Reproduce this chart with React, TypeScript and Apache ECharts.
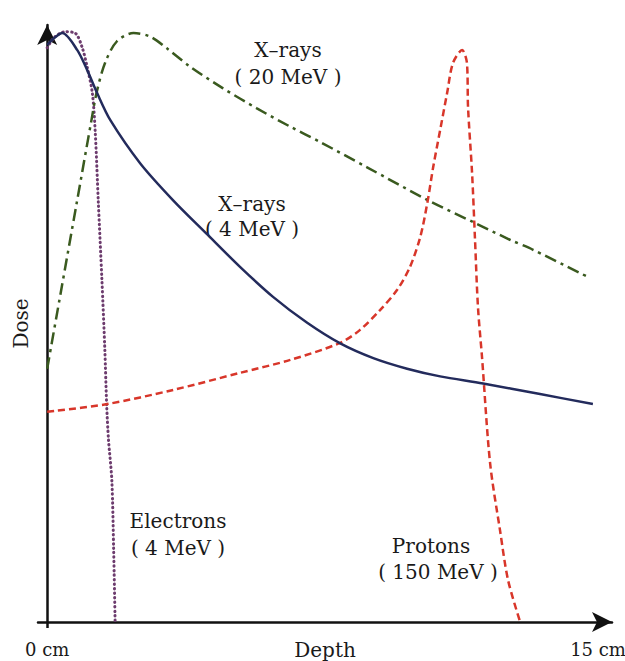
import React, { useEffect, useRef } from "react";
import * as echarts from "echarts";

// Depth in cm, relative dose (peak = 100)
const xray4Depth = [0, 0.2, 0.41, 0.82, 1.09, 1.36, 1.72, 2.53, 3.43, 4.36, 5.25, 6.15, 7.08, 7.98, 8.88, 9.8, 10.7, 11.87, 13.42, 14.86];
const xray4Dose = [98, 99.2, 100, 97.1, 93.7, 89.8, 85.2, 77.9, 71.6, 65.8, 60.3, 55.2, 50.8, 47.3, 44.8, 43.0, 41.7, 40.5, 38.7, 37.0];

const xray20Depth = [0, 0.4, 0.8, 1.2, 1.35, 1.58, 1.9, 2.35, 2.8, 3.26, 3.89, 4.79, 5.71, 6.62, 7.43, 8.71, 10.37, 11.6, 12.6, 13.23, 14.78];
const xray20Dose = [43, 57, 71, 85, 90, 95, 98.6, 100, 99.4, 97.4, 94.3, 90.6, 87.2, 84.1, 81.5, 77.2, 71.6, 67.9, 64.9, 63.2, 58.4];

const electronDepth = [0, 0.2, 0.49, 0.76, 0.95, 1.09, 1.23, 1.31, 1.39, 1.49, 1.57, 1.62, 1.67, 1.76, 1.81, 1.85];
const electronDose = [97.5, 99.3, 100.2, 100, 97.6, 94.2, 89.8, 83.0, 71.6, 58.1, 46.2, 36.8, 30.9, 24.1, 12.2, 0];

const protonDepth = [0, 1.63, 3.43, 5.25, 6.62, 7.98, 8.52, 9.07, 9.53, 9.88, 10.16, 10.35, 10.51, 10.7, 10.89, 11.05, 11.3, 11.43, 11.46, 11.57, 11.65, 11.73, 11.84, 12.06, 12.33, 12.55, 12.88];
const protonDose = [35.7, 37.0, 39.4, 42.3, 44.5, 47.4, 49.6, 53.0, 56.4, 60.3, 65.4, 71.1, 77.2, 83.5, 89.8, 94.9, 97.1, 94.9, 87.4, 76.2, 64.9, 53.5, 45.0, 27.0, 15.6, 7.1, 0];

const xTickValues = [0, 15];
const xTickLabels = ["0 cm", "15 cm"];

const pairs = (xs: number[], ys: number[]) => xs.map((x, i) => [x, ys[i]]);

export default function App() {
  const ref = useRef<HTMLDivElement>(null);
  useEffect(() => {
    if (!ref.current) return;
    const chart = echarts.init(ref.current, null, { renderer: "svg" });
    const serif = '"DejaVu Serif", "Liberation Serif", serif';
    const ink = "#1a1a1a";
    const axisLineStyle = { color: "#111", width: 2.5 };
    const txt = (t: string, x: number, y: number, size = 20) => ({
      type: "text",
      x,
      y,
      silent: true,
      style: {
        text: t,
        fontSize: size,
        fontFamily: serif,
        fill: ink,
        align: "center",
        verticalAlign: "middle",
        textAlign: "center",
        textVerticalAlign: "middle",
      },
    });
    chart.setOption({
      animation: false,
      backgroundColor: "#ffffff",
      grid: { left: 38, right: 13, top: 25, bottom: 39, containLabel: false, outerBoundsMode: "none" },
      xAxis: {
        type: "value",
        min: -0.25,
        max: 15.38,
        name: "Depth",
        nameLocation: "middle",
        nameGap: 18,
        nameMoveOverlap: false,
        nameTextStyle: { fontSize: 20, fontFamily: serif, color: ink },
        axisLine: {
          show: true,
          onZero: true,
          symbol: ["none", "arrow"],
          symbolSize: [15, 20],
          lineStyle: axisLineStyle,
        },
        axisTick: {
          show: true,
          customValues: xTickValues,
          length: 6,
          inside: false,
          lineStyle: axisLineStyle,
        },
        axisLabel: {
          show: true,
          customValues: xTickValues,
          formatter: (v: number) => {
            const i = xTickValues.indexOf(v);
            return i >= 0 ? xTickLabels[i] : "";
          },
          margin: 18,
          fontSize: 18,
          fontFamily: serif,
          color: ink,
        },
        splitLine: { show: false },
      },
      yAxis: {
        type: "value",
        min: 0,
        max: 101.36,
        name: "Dose",
        nameLocation: "middle",
        nameRotate: 90,
        nameGap: 7,
        nameMoveOverlap: false,
        nameTextStyle: { fontSize: 20, fontFamily: serif, color: ink },
        axisLine: {
          show: true,
          onZero: true,
          symbol: ["none", "arrow"],
          symbolSize: [15, 20],
          lineStyle: axisLineStyle,
        },
        axisTick: { show: false },
        axisLabel: { show: false },
        splitLine: { show: false },
      },
      series: [
        {
          name: "Electrons (4 MeV)",
          type: "line",
          data: pairs(electronDepth, electronDose),
          showSymbol: false,
          smooth: 0.3,
          silent: true,
          lineStyle: { color: "#6d3c6e", width: 3, type: [0.5, 4], cap: "round" },
          z: 2,
        },
        {
          name: "X-rays (20 MeV)",
          type: "line",
          data: pairs(xray20Depth, xray20Dose),
          showSymbol: false,
          smooth: 0.3,
          silent: true,
          lineStyle: { color: "#3a5a1f", width: 2.5, type: [12, 5, 3, 5] },
          z: 2,
        },
        {
          name: "Protons (150 MeV)",
          type: "line",
          data: pairs(protonDepth, protonDose),
          showSymbol: false,
          smooth: 0.3,
          silent: true,
          lineStyle: { color: "#d8362a", width: 2.5, type: [7, 4] },
          z: 2,
        },
        {
          name: "X-rays (4 MeV)",
          type: "line",
          data: pairs(xray4Depth, xray4Dose),
          showSymbol: false,
          smooth: 0.3,
          silent: true,
          lineStyle: { color: "#232b5c", width: 2.5 },
          z: 3,
        },
      ],
      graphic: [
        txt("X–rays", 288, 50),
        txt("( 20 MeV )", 288, 77),
        txt("X–rays", 252, 204),
        txt("( 4 MeV )", 252, 229),
        txt("Electrons", 178, 521),
        txt("( 4 MeV )", 178, 548),
        txt("Protons", 431, 546),
        txt("( 150 MeV )", 438, 572),
      ],
    });
    return () => chart.dispose();
  }, []);
  return (
    <div
      ref={ref}
      style={{ position: "fixed", left: 0, top: 0, width: 625, height: 661, background: "#fff" }}
    />
  );
}
